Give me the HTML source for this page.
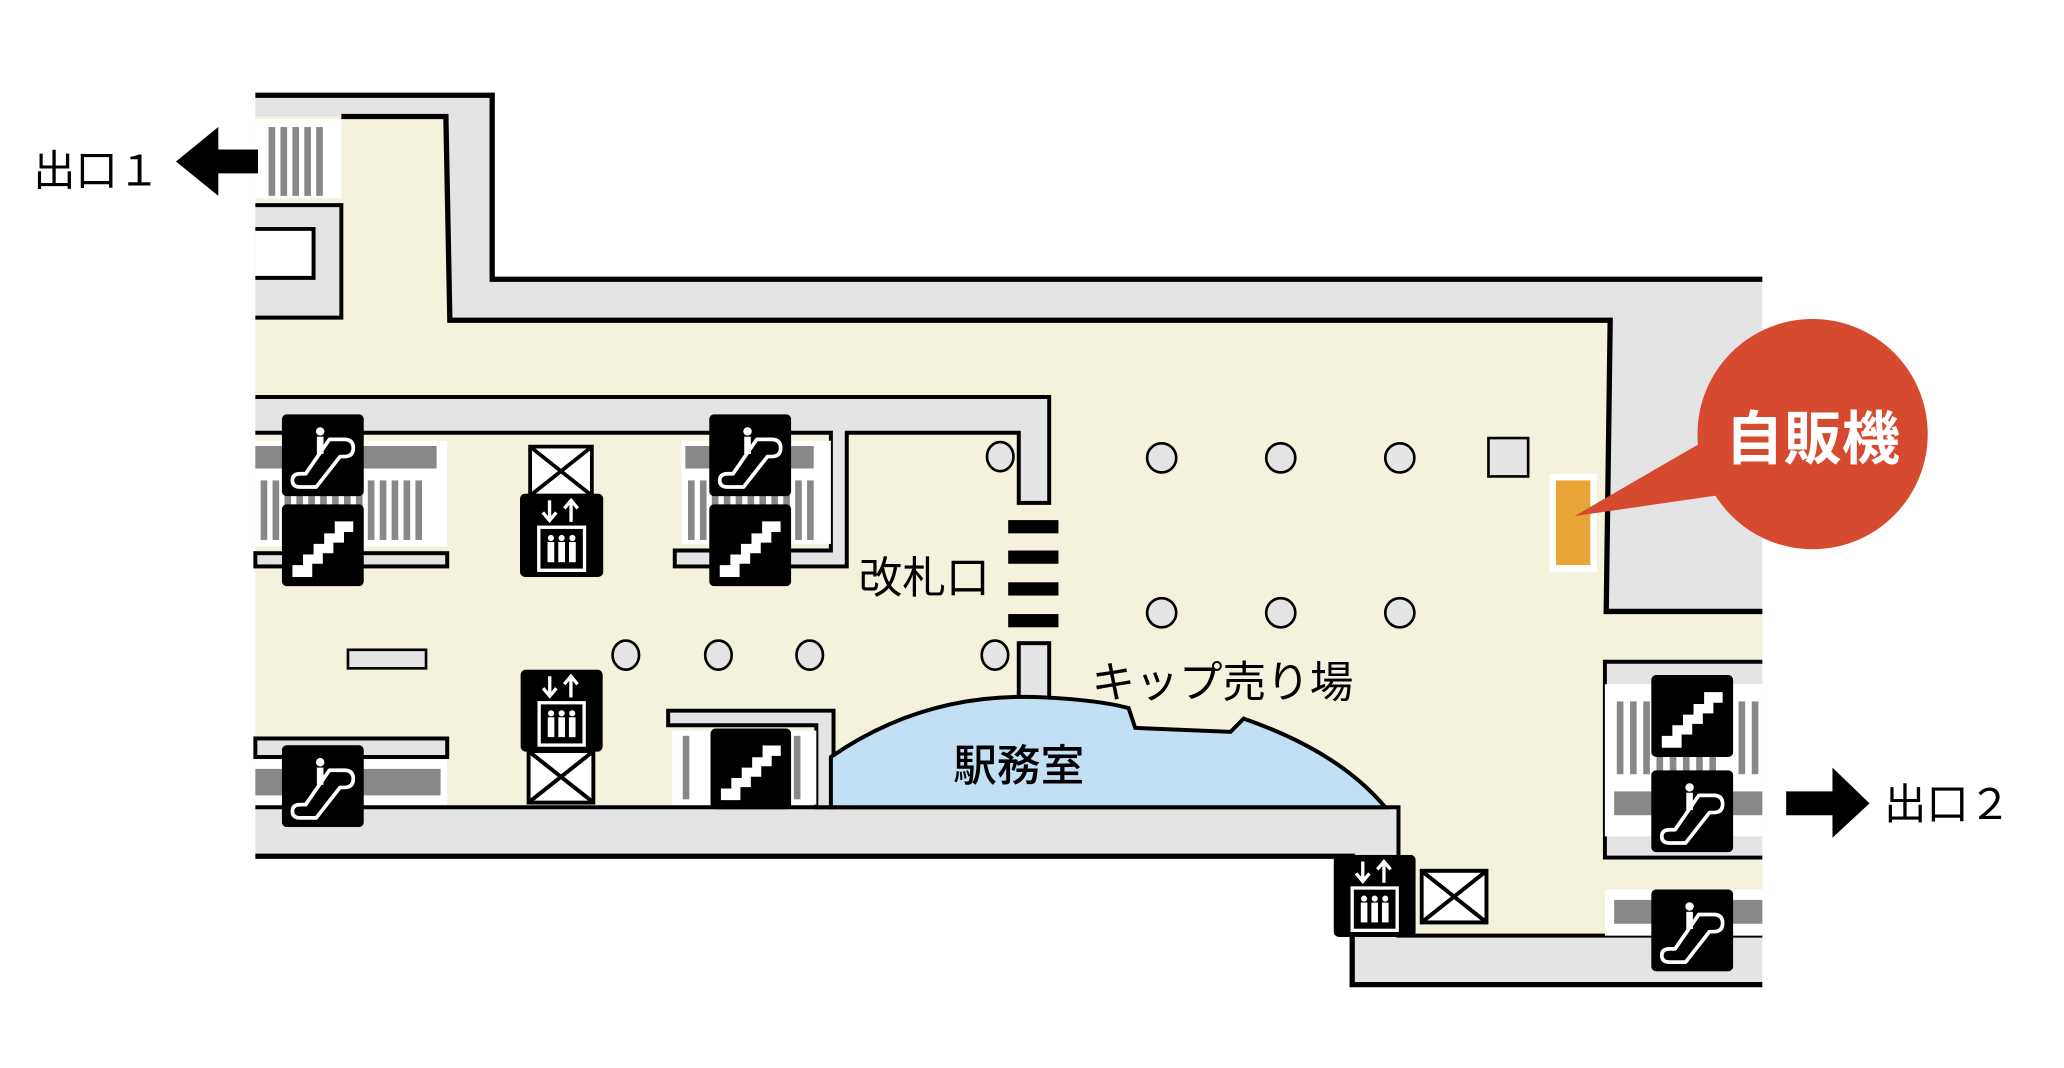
<!DOCTYPE html>
<html><head><meta charset="utf-8"><style>
html,body{margin:0;padding:0;background:#fff;}
svg{display:block;}
text{font-family:"Liberation Sans","Noto Sans CJK JP",sans-serif;}
</style></head><body>
<svg width="2064" height="1068" viewBox="0 0 1560 807" preserveAspectRatio="none" xmlns="http://www.w3.org/2000/svg">
<defs>
<symbol id="esc" viewBox="0 0 62 62">
<rect x="0" y="0" width="62" height="62" rx="4" fill="#000"/>
<circle cx="29" cy="13" r="3.2" fill="#fff"/>
<rect x="26.5" y="17" width="5" height="13" fill="#fff"/>
<path d="M14,55 Q8,55 8,50 Q8,45 14,45 L18,45 L36,19 L47,19 Q54,19 54,25.5 Q54,32 47,32 L44,32 L26,55 Z" fill="none" stroke="#fff" stroke-width="2.8" stroke-linejoin="round"/>
</symbol>
<symbol id="stair" viewBox="0 0 62 62">
<rect x="0" y="0" width="62" height="62" rx="4" fill="#000"/>
<path d="M8,55 L8,46 L16,46 L16,38 L24,38 L24,30 L32,30 L32,22 L40,22 L40,13 L54,13 L54,21 L47,21 L47,29 L39,29 L39,37 L31,37 L31,45 L23,45 L23,55 Z" fill="#fff"/>
</symbol>
<symbol id="elev" viewBox="0 0 62 62">
<rect x="0" y="0" width="62" height="62" rx="4" fill="#000"/>
<path d="M22,5 V19 M17,14 L22,20 L27,14" stroke="#fff" stroke-width="2.5" fill="none"/>
<path d="M38,21 V6 M33,11 L38,5 L43,11" stroke="#fff" stroke-width="2.5" fill="none"/>
<rect x="14" y="25" width="34" height="32" fill="none" stroke="#fff" stroke-width="2.5"/>
<g fill="#fff">
<circle cx="23" cy="33" r="2.3"/><rect x="20.5" y="36" width="5" height="15"/>
<circle cx="31" cy="33" r="2.3"/><rect x="28.5" y="36" width="5" height="15"/>
<circle cx="39" cy="33" r="2.3"/><rect x="36.5" y="36" width="5" height="15"/>
</g>
</symbol>
<symbol id="xbox" viewBox="0 0 52 42">
<rect x="1.5" y="1.5" width="49" height="39" fill="#fff" stroke="#000" stroke-width="3"/>
<path d="M2,2 L50,40 M50,2 L2,40" stroke="#000" stroke-width="3"/>
</symbol>
</defs>

<polygon points="193,88 337,88 340,242 1217,242 1214,462 1332,462 1332,707 1057,707 1057,610 193,610" fill="#f4f1dc"/>

<polygon points="193,72 372,72 372,211 1332,211 1332,462 1214,462 1217,242 340,242 337,88 193,88" fill="#e4e4e4"/>
<polyline points="193,72 372,72 372,211 1332,211" fill="none" stroke="#000" stroke-width="4"/>
<polyline points="258,88 337,88 340,242 1217,242 1214,462 1332,462" fill="none" stroke="#000" stroke-width="4"/>

<rect x="193" y="90" width="65" height="60" fill="#fff"/>
<g fill="#888"><rect x="203" y="96" width="5" height="52"/><rect x="212" y="96" width="5" height="52"/><rect x="221" y="96" width="5" height="52"/><rect x="230" y="96" width="5" height="52"/><rect x="239" y="96" width="5" height="52"/></g>
<rect x="193" y="155" width="65" height="85" fill="#e4e4e4"/>
<polyline points="193,155 258,155 258,240 193,240" fill="none" stroke="#000" stroke-width="3"/>
<polygon points="193,173 237,173 237,210 193,210" fill="#fff"/>
<polyline points="193,173 237,173 237,210 193,210" fill="none" stroke="#000" stroke-width="3"/>

<polygon points="193,610 1057,610 1057,707 1332,707 1332,744 1022,744 1022,647 193,647" fill="#e4e4e4"/>
<polyline points="193,647 1022,647 1022,744 1332,744" fill="none" stroke="#000" stroke-width="4"/>
<polyline points="193,610 1057,610 1057,707 1332,707" fill="none" stroke="#000" stroke-width="3"/>

<path d="M193,300 H793 V380 H770 V327 H640 V428 H510 V416 H628 V327 H193" fill="#e4e4e4" stroke="#000" stroke-width="3"/>
<rect x="193" y="333" width="145" height="80" fill="#fff"/>
<rect x="193" y="337" width="137" height="17" fill="#888"/>
<g fill="#888"><rect x="197" y="363" width="5" height="45"/><rect x="206" y="363" width="5" height="45"/><rect x="215" y="363" width="5" height="45"/><rect x="224" y="363" width="5" height="45"/><rect x="233" y="363" width="5" height="45"/><rect x="242" y="363" width="5" height="45"/><rect x="251" y="363" width="5" height="45"/><rect x="260" y="363" width="5" height="45"/><rect x="269" y="363" width="5" height="45"/><rect x="278" y="363" width="5" height="45"/><rect x="287" y="363" width="5" height="45"/><rect x="296" y="363" width="5" height="45"/><rect x="305" y="363" width="5" height="45"/><rect x="314" y="363" width="5" height="45"/></g>
<rect x="193" y="418" width="145" height="10" fill="#e4e4e4" stroke="#000" stroke-width="3"/>
<rect x="515" y="333" width="113" height="78" fill="#fff"/>
<rect x="518" y="337" width="97" height="17" fill="#888"/>
<g fill="#888"><rect x="520" y="363" width="5" height="45"/><rect x="529" y="363" width="5" height="45"/><rect x="538" y="363" width="5" height="45"/><rect x="547" y="363" width="5" height="45"/><rect x="556" y="363" width="5" height="45"/><rect x="565" y="363" width="5" height="45"/><rect x="574" y="363" width="5" height="45"/><rect x="583" y="363" width="5" height="45"/><rect x="592" y="363" width="5" height="45"/><rect x="601" y="363" width="5" height="45"/><rect x="610" y="363" width="5" height="45"/></g>

<rect x="193" y="558" width="145" height="14" fill="#e4e4e4" stroke="#000" stroke-width="3"/>
<rect x="193" y="574" width="145" height="34" fill="#fff"/>
<rect x="193" y="581" width="140" height="20" fill="#888"/>

<path d="M505,548 V537 H630 V610 H617 V548 Z" fill="#e4e4e4" stroke="#000" stroke-width="3"/>
<rect x="508" y="552" width="109" height="56" fill="#fff"/>
<rect x="516" y="556" width="5" height="48" fill="#888"/><rect x="600" y="556" width="5" height="48" fill="#888"/>

<rect x="263" y="491" width="59" height="14" fill="#e4e4e4" stroke="#000" stroke-width="2"/>

<use href="#xbox" x="398" y="336" width="52" height="40"/>
<use href="#elev" x="393" y="373" width="63" height="63"/>
<use href="#elev" x="393" y="506" width="63" height="62"/>
<use href="#xbox" x="398" y="566" width="52" height="42"/>

<use href="#esc" x="213" y="313" width="62" height="62"/>
<use href="#stair" x="213" y="381" width="62" height="62"/>
<use href="#esc" x="536" y="313" width="62" height="62"/>
<use href="#stair" x="536" y="381" width="62" height="62"/>
<use href="#esc" x="213" y="563" width="62" height="62"/>
<use href="#stair" x="537" y="550" width="61" height="62"/>

<g fill="#e4e4e4" stroke="#000" stroke-width="2">
<ellipse cx="756" cy="345" rx="10" ry="11"/>
<circle cx="878" cy="346" r="11"/><circle cx="968" cy="346" r="11"/><circle cx="1058" cy="346" r="11"/>
<circle cx="878" cy="463" r="11"/><circle cx="968" cy="463" r="11"/><circle cx="1058" cy="463" r="11"/>
<ellipse cx="473" cy="495" rx="10" ry="11"/><ellipse cx="543" cy="495" rx="10" ry="11"/><ellipse cx="612" cy="495" rx="10" ry="11"/><ellipse cx="752" cy="495" rx="10" ry="11"/>
<rect x="1125" y="331" width="30" height="29"/>
</g>

<g fill="#000"><rect x="762" y="393" width="38" height="10"/><rect x="762" y="416" width="38" height="10"/><rect x="762" y="440" width="38" height="10"/><rect x="762" y="464" width="38" height="10"/></g>
<rect x="770" y="486" width="23" height="42" fill="#e4e4e4" stroke="#000" stroke-width="3"/>
<text x="649" y="448" font-size="33">改札口</text>

<path d="M628,572 Q700,522 790,527 Q830,529 853,535 L858,550 L930,553 L940,543 Q1012,568 1047,610 L628,610 Z" fill="#c2e0f4" stroke="#000" stroke-width="3"/>
<text x="770" y="590" font-size="33" font-weight="500" text-anchor="middle">駅務室</text>
<text x="825" y="527" font-size="33">キップ売り場</text>

<rect x="1171" y="358" width="36" height="74" fill="#fff"/>
<rect x="1176" y="363" width="26" height="64" fill="#e8a535"/>
<ellipse cx="1370" cy="328" rx="87" ry="87" fill="#d64a2f"/>
<polygon points="1285,335 1300,374 1190,390" fill="#d64a2f"/>
<text x="1370" y="347" font-size="44" fill="#fff" text-anchor="middle" font-weight="bold">自販機</text>

<rect x="1213" y="500" width="119" height="148" fill="#e4e4e4"/>
<polyline points="1332,500 1213,500 1213,648 1332,648" fill="none" stroke="#000" stroke-width="3"/>
<rect x="1213" y="517" width="119" height="115" fill="#fff"/>
<g fill="#888"><rect x="1222" y="530" width="5" height="55"/><rect x="1232" y="530" width="5" height="55"/><rect x="1242" y="530" width="5" height="55"/><rect x="1252" y="562" width="5" height="23"/><rect x="1262" y="562" width="5" height="23"/><rect x="1272" y="562" width="5" height="23"/><rect x="1282" y="562" width="5" height="23"/><rect x="1292" y="562" width="5" height="23"/><rect x="1314" y="530" width="5" height="55"/><rect x="1324" y="530" width="5" height="55"/></g>
<rect x="1220" y="598" width="112" height="18" fill="#888"/>
<rect x="1213" y="672" width="119" height="35" fill="#fff"/>
<rect x="1220" y="680" width="112" height="18" fill="#888"/>
<use href="#stair" x="1248" y="510" width="62" height="62"/>
<use href="#esc" x="1248" y="582" width="62" height="62"/>
<use href="#esc" x="1248" y="672" width="62" height="62"/>
<use href="#elev" x="1008" y="646" width="62" height="62"/>
<use href="#xbox" x="1073" y="655" width="52" height="45"/>

<polygon points="133,122 165,96 165,113 195,113 195,131 165,131 165,148" fill="#000"/>
<text x="25" y="140" font-size="32">出口１</text>
<polygon points="1350,598 1385,598 1385,580 1413,607 1385,633 1385,616 1350,616" fill="#000"/>
<text x="1424" y="619" font-size="32">出口２</text>
</svg>
</body></html>
